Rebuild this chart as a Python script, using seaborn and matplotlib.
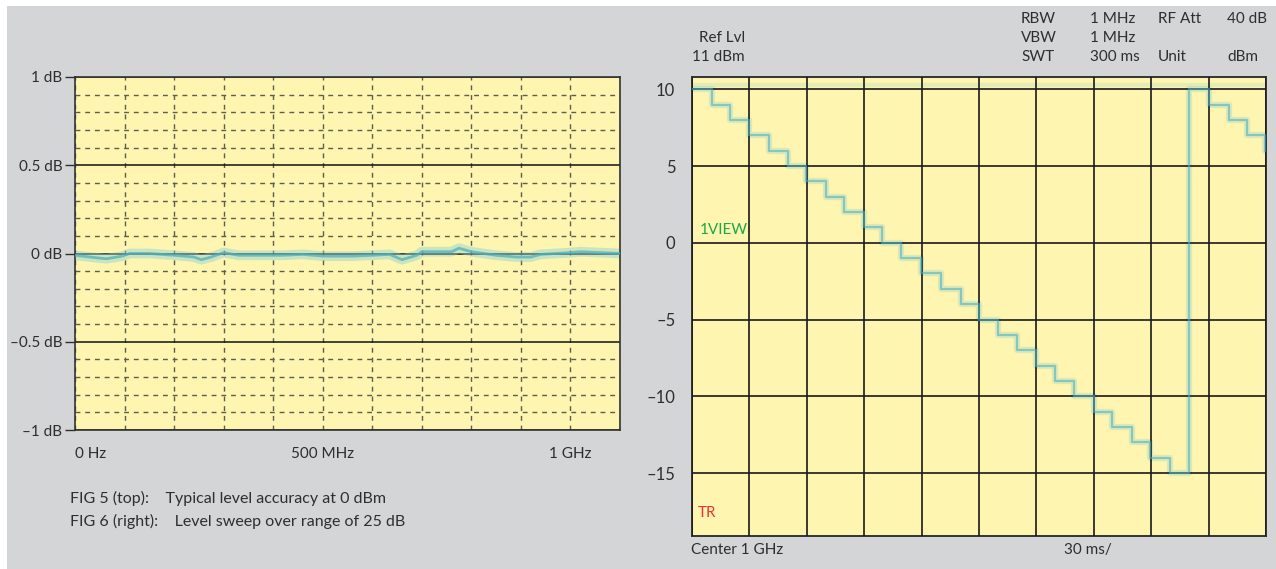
import matplotlib
matplotlib.use("Agg")
import matplotlib.pyplot as plt
from matplotlib.patches import Rectangle
from matplotlib.ticker import MultipleLocator
import seaborn as sns

sns.set_theme(style="white")
plt.rcParams["font.family"] = ["Lato", "DejaVu Sans"]

W, H = 1276, 569
PANEL = "#d4d5d7"
SCREEN = "#fdf5b0"
TEXT = "#2e2e2e"
TRACE = "#4fb0bc"
GLOW = "#8dd0d4"

# FIG 5: level deviation vs. frequency
freq_mhz = [0, 30, 63, 95, 110, 150, 200, 240, 255, 275, 300, 330, 380, 420, 460,
            500, 560, 600, 635, 660, 690, 700, 760, 775, 800, 850, 890, 920, 940,
            1000, 1020, 1060, 1100]
level_dev = [-0.01, -0.02, -0.03, -0.015, 0.0, 0.0, -0.01, -0.02, -0.035, -0.02,
             0.005, -0.01, -0.01, -0.01, -0.005, -0.015, -0.015, -0.01, -0.005,
             -0.035, -0.01, 0.01, 0.01, 0.03, 0.01, -0.01, -0.02, -0.02, -0.005,
             0.005, 0.01, 0.005, 0.0]
left_yticks = [-1, -0.5, 0, 0.5, 1]
left_ylabels = ["\u20131 dB", "\u20130.5 dB", "0 dB", "0.5 dB", "1 dB"]
left_xticks = [0, 500, 1000]
left_xlabels = ["0 Hz", "500 MHz", "1 GHz"]

# FIG 6: level sweep, step times (ms) and levels (dBm)
sweep_ms = [0, 10.5, 19.7, 29.7, 40.5, 50.1, 59.7, 69.8, 79.4, 89.7, 99.5, 109.0,
            119.5, 130.1, 140.6, 149.8, 160.0, 169.8, 179.9, 189.6, 199.8, 209.9,
            219.5, 229.9, 239.5, 250.0, 260.0, 270.0, 280.5, 290.0, 299.5, 300.0]
sweep_dbm = [10, 9, 8, 7, 6, 5, 4, 3, 2, 1, 0, -1, -2, -3, -4, -5, -6, -7, -8, -9,
             -10, -11, -12, -13, -14, -15, 10, 9, 8, 7, 6, 6]
display_line = [10.3]
right_yticks = [-15, -10, -5, 0, 5, 10]
right_ylabels = ["\u201315", "\u201310", "\u20135", "0", "5", "10"]

fig = plt.figure(figsize=(W / 100, H / 100), dpi=100, facecolor="white")
fig.patches.append(Rectangle((7 / W, 0), 1 - 7 / W, 1 - 6 / H,
                             transform=fig.transFigure, facecolor=PANEL,
                             edgecolor="none", zorder=-5))


def box(x0, y0, x1, y1):
    return [x0 / W, 1 - y1 / H, (x1 - x0) / W, (y1 - y0) / H]


def px(x, y):
    return x / W, 1 - y / H


# ---- left chart
ax1 = fig.add_axes(box(75, 77, 620, 430))
ax1.set_facecolor(SCREEN)
sns.lineplot(x=freq_mhz, y=level_dev, ax=ax1, color=GLOW, lw=7, alpha=0.45,
             estimator=None, sort=False, zorder=2)
sns.lineplot(x=freq_mhz, y=level_dev, ax=ax1, color=TRACE, lw=2.0, alpha=0.75,
             estimator=None, sort=False, zorder=3)
ax1.set_xlim(0, 1100)
ax1.set_ylim(-1, 1)
ax1.set_xticks(left_xticks, left_xlabels)
ax1.xaxis.set_minor_locator(MultipleLocator(100))
ax1.set_yticks(left_yticks, left_ylabels)
ax1.yaxis.set_minor_locator(MultipleLocator(0.1))
ax1.grid(axis="x", which="both", color="#5e5e50", lw=1, dashes=(3.5, 3.5))
ax1.grid(axis="y", which="minor", color="#5e5e50", lw=1, dashes=(3.5, 3.5))
ax1.grid(axis="y", which="major", color="#111111", lw=1.1)
ax1.set_axisbelow(True)
for ln in ax1.get_ygridlines():
    ln.set_zorder(4)
ax1.tick_params(axis="y", which="major", left=True, length=7, width=1,
                color=TEXT, labelsize=11, labelcolor=TEXT, pad=2)
ax1.tick_params(axis="x", which="major", bottom=False, labelsize=11,
                labelcolor=TEXT, pad=6)
ax1.tick_params(which="minor", length=0)
ax1.get_xticklabels()[0].set_horizontalalignment("left")
for s in ax1.spines.values():
    s.set_color("#333333")
    s.set_linewidth(1.2)
ax1.set_xlabel("")
ax1.set_ylabel("")

fig.text(*px(70, 498), "FIG 5 (top):    Typical level accuracy at 0 dBm",
         fontsize=11.5, color=TEXT, va="center")
fig.text(*px(70, 521), "FIG 6 (right):    Level sweep over range of 25 dB",
         fontsize=11.5, color=TEXT, va="center")

# ---- right chart
ax2 = fig.add_axes(box(692, 77, 1266, 536))
ax2.set_facecolor(SCREEN)
for lvl in display_line:
    ax2.axhline(lvl, color=GLOW, lw=3, alpha=0.22, zorder=1)
sns.lineplot(x=sweep_ms, y=sweep_dbm, ax=ax2, color=GLOW, lw=4.5, alpha=0.3,
             drawstyle="steps-post", estimator=None, sort=False, zorder=2)
sns.lineplot(x=sweep_ms, y=sweep_dbm, ax=ax2, color=TRACE, lw=1.6, alpha=0.6,
             drawstyle="steps-post", estimator=None, sort=False, zorder=3)
ax2.set_xlim(0, 300)
ax2.set_ylim(-19.1, 10.8)
ax2.xaxis.set_major_locator(MultipleLocator(30))
ax2.set_yticks(right_yticks, right_ylabels)
ax2.grid(which="major", color="#1a1a1a", lw=1.2)
ax2.set_axisbelow(False)
for ln in ax2.get_xgridlines() + ax2.get_ygridlines():
    ln.set_zorder(1.5)
ax2.tick_params(axis="x", bottom=False, labelbottom=False)
ax2.tick_params(axis="y", left=False, labelsize=12, labelcolor=TEXT, pad=6)
for s in ax2.spines.values():
    s.set_color("#333333")
    s.set_linewidth(1.4)
ax2.set_xlabel("")
ax2.set_ylabel("")

ax2.text(*px(700, 230), "1VIEW", transform=fig.transFigure, color="#1fa64a",
         fontsize=11, va="center")
ax2.text(*px(698, 513), "TR", transform=fig.transFigure, color="#e8343c",
         fontsize=11, va="center")

hdr = dict(fontsize=11, color=TEXT, va="center")
fig.text(*px(745, 38), "Ref Lvl", ha="right", **hdr)
fig.text(*px(745, 57), "11 dBm", ha="right", **hdr)
for x, col in [(1021, ["RBW", "VBW", "SWT"]),
               (1090, ["1 MHz", "1 MHz", "300 ms"]),
               (1158, ["RF Att", "", "Unit"]),
               (1227, ["40 dB", "", "dBm"])]:
    for y, s in zip([19, 38, 57], col):
        if s:
            fig.text(*px(x, y), s, **hdr)
fig.text(*px(691, 550), "Center 1 GHz", **hdr)
fig.text(*px(1064, 550), "30 ms/", **hdr)

fig.savefig("out.png", dpi=100, facecolor=fig.get_facecolor())
